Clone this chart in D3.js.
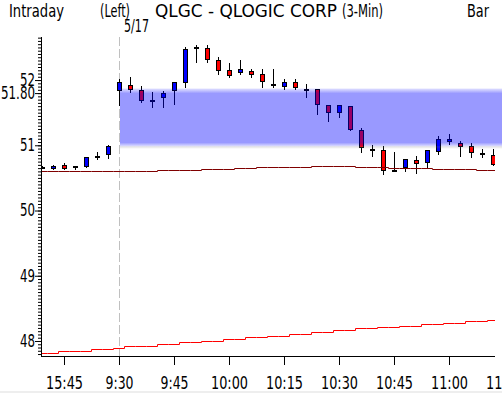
<!DOCTYPE html>
<html>
<head>
<meta charset="utf-8">
<script src="https://cdn.jsdelivr.net/npm/d3@7"></script>
<style>
  body { margin: 0; background: #fff; overflow: hidden; }
  svg { display: block; }
  text { font-family: "DejaVu Sans Condensed", "Liberation Sans Narrow", "DejaVu Sans", sans-serif; font-size: 17px; fill: #000; }
</style>
</head>
<body>
<div id="chart"></div>
<script>
// 3-min bars, previous close then the 5/17 session
const slots = ["15:39","15:42","15:45","15:48","15:51","15:54","15:57",
  "9:30","9:33","9:36","9:39","9:42","9:45","9:48","9:51","9:54","9:57",
  "10:00","10:03","10:06","10:09","10:12","10:15","10:18","10:21","10:24","10:27",
  "10:30","10:33","10:36","10:39","10:42","10:45","10:48","10:51","10:54","10:57",
  "11:00","11:03","11:06","11:09","11:12","11:15"];

const open  = [50.67,50.65,50.70,50.69,50.69,50.84,50.86, 51.84,51.93,51.85,51.70,51.74,51.84,51.97,52.51,52.49,52.31,52.15,52.12,52.14,52.09,51.94,51.91,51.97,51.87,51.87,51.61,51.51,51.60,51.24,50.95,50.93,50.62,50.66,50.77,50.74,50.92,51.07,51.04,50.99,50.88,50.85];
const high  = [50.69,50.70,50.73,50.69,50.82,50.89,51.00, 52.02,52.05,51.91,51.81,51.83,51.97,52.50,52.54,52.54,52.35,52.26,52.31,52.17,52.17,52.17,52.02,52.02,51.94,51.87,51.61,51.61,51.60,51.26,51.00,50.99,50.89,50.79,50.84,50.93,51.14,51.17,51.07,51.04,50.95,50.95];
const low   = [50.65,50.64,50.64,50.63,50.67,50.79,50.80, 51.62,51.82,51.67,51.59,51.59,51.64,51.90,52.28,52.28,52.09,52.05,52.10,52.04,51.90,51.90,51.86,51.87,51.74,51.48,51.38,51.44,51.23,50.90,50.84,50.56,50.60,50.60,50.57,50.65,50.87,51.02,50.84,50.82,50.82,50.70];
const close = [50.67,50.69,50.65,50.69,50.82,50.84,50.99, 51.97,51.87,51.70,51.70,51.80,51.97,52.48,52.51,52.32,52.15,52.08,52.17,52.10,51.99,51.94,51.97,51.89,51.87,51.63,51.51,51.61,51.25,50.97,50.95,50.62,50.62,50.79,50.73,50.93,51.09,51.10,50.99,50.90,50.88,50.72];

// moving averages
const maFast = [50.60,50.60,50.60,50.60,50.60,50.60,50.60,50.60, 50.61,50.61,50.61, 50.62,50.62,50.62,50.62, 50.635,50.635,50.635, 50.645,50.645, 50.66,50.66,50.66,50.66,50.66, 50.68,50.68,50.68,50.68, 50.66,50.66,50.66, 50.645,50.645,50.645,50.645, 50.63,50.63,50.63,50.63, 50.615,50.615];
const maSlow = [47.81,47.81, 47.85,47.85,47.85, 47.88,47.88, 47.90, 47.93,47.93,47.93, 47.96,47.96, 47.98,47.98, 48.005,48.005, 48.035,48.035, 48.06,48.06, 48.08,48.08, 48.11,48.11, 48.14,48.14, 48.17,48.17, 48.195,48.195, 48.215,48.215, 48.23,48.23, 48.255,48.255, 48.28,48.28, 48.30,48.30, 48.32];

const bandHigh = 51.87, bandLow = 50.95;

const yTickValues = [48, 49, 50, 51, 51.8, 52];
const yTickLabels = ["48", "49", "50", "51", "51.80", "52"];
const xTickLabels = ["15:45","9:30","9:45","10:00","10:15","10:30","10:45","11:00","11:15"];

const width = 502, height = 393;
const plot = { left: 41, right: 495, top: 37, bottom: 356 };

const x = d3.scalePoint().domain(slots).range([42, 504]);
const y = d3.scaleLinear().domain([47.77, 52.66]).range([356, 37]);
const py = v => Math.round(y(v));

const svg = d3.select("#chart").append("svg")
  .attr("width", width).attr("height", height);

const defs = svg.append("defs");
defs.append("clipPath").attr("id", "clip")
  .append("rect")
  .attr("x", plot.left + 0.5).attr("y", plot.top)
  .attr("width", plot.right - plot.left - 0.5).attr("height", plot.bottom - plot.top);

const grad = defs.append("linearGradient").attr("id", "bandFill")
  .attr("x1", 0).attr("y1", 0).attr("x2", 0).attr("y2", 1);
[[0, "#0000ff", 0.12], [0.04, "#0000ff", 0.25], [0.08, "#0000ff", 0.4],
 [0.90, "#0000ff", 0.4], [0.95, "#0000ff", 0.18], [0.97, "#808080", 0.2], [1, "#808080", 0.08]]
  .forEach(s => grad.append("stop").attr("offset", s[0]).attr("stop-color", s[1]).attr("stop-opacity", s[2]));

// session divider
svg.append("line")
  .attr("x1", x("9:30") + 0.5).attr("x2", x("9:30") + 0.5)
  .attr("y1", plot.top).attr("y2", plot.bottom)
  .attr("stroke", "#c0c0c0").attr("stroke-dasharray", "9,3");

const bars = open.map((o, i) => ({ t: slots[i], o, h: high[i], l: low[i], c: close[i] }));

const candles = svg.append("g").attr("clip-path", "url(#clip)");

candles.selectAll("line.wick")
  .data(bars)
  .join("line")
  .attr("class", "wick")
  .attr("x1", d => x(d.t) + 0.5).attr("x2", d => x(d.t) + 0.5)
  .attr("y1", d => py(d.h)).attr("y2", d => py(d.l) + 1)
  .attr("stroke", "#000");

candles.selectAll("rect.body")
  .data(bars)
  .join("rect")
  .attr("class", "body")
  .attr("x", d => x(d.t) - 1.5)
  .attr("y", d => py(Math.max(d.o, d.c)) + 0.5)
  .attr("width", 4)
  .attr("height", d => Math.max(1, py(Math.min(d.o, d.c)) - py(Math.max(d.o, d.c))))
  .attr("fill", d => d.c > d.o ? "#0000ff" : d.c < d.o ? "#ff0000" : "#000")
  .attr("stroke", "#000");

// shaded zone drawn over the bars
svg.append("rect")
  .attr("x", 120).attr("width", width - 120)
  .attr("y", y(bandHigh)).attr("height", y(bandLow) - y(bandHigh))
  .attr("fill", "url(#bandFill)");

const stepLine = d3.line().x(p => p[0]).y(p => py(p[1]) + 0.5);
function stepPoints(ma) {
  return ma.flatMap((v, i) => [[x(slots[i]) - 5.5, v], [x(slots[i]) + 5.5, v]]);
}

const lines = svg.append("g").attr("clip-path", "url(#clip)");
lines.append("path").attr("d", stepLine(stepPoints(maFast)))
  .attr("fill", "none").attr("stroke", "#800000");
lines.append("path").attr("d", stepLine(stepPoints(maSlow)))
  .attr("fill", "none").attr("stroke", "#ff0000");

// y axis
const yAxisG = svg.append("g").attr("transform", `translate(${plot.left},0)`);
yAxisG.append("g")
  .call(d3.axisLeft(y).tickValues(d3.range(47.8, 52.66, 0.05)).tickSize(3).tickFormat(""))
  .call(g => g.select(".domain").remove());
yAxisG.append("g")
  .call(d3.axisLeft(y).tickValues(yTickValues).tickSize(6).tickPadding(0)
    .tickFormat((d, i) => yTickLabels[i]))
  .call(g => g.select(".domain").remove())
  .call(g => g.selectAll("text")
    .attr("fill", "#000")
    .style("font-size", "17px")
    .style("font-family", null)
    .attr("textLength", d => { const s = yTickLabels[yTickValues.indexOf(d)]; return s.replace(".", "").length * 7.5 + (s.includes(".") ? 4 : 0); })
    .attr("lengthAdjust", "spacingAndGlyphs"));
yAxisG.selectAll(".tick line").attr("stroke", "#000");
svg.append("line")
  .attr("x1", plot.left + 0.5).attr("x2", plot.left + 0.5)
  .attr("y1", plot.top).attr("y2", plot.bottom + 1)
  .attr("stroke", "#000");

// x axis
svg.append("g")
  .attr("transform", `translate(0,${plot.bottom})`)
  .call(d3.axisBottom(x).tickValues(xTickLabels).tickSize(9))
  .call(g => g.select(".domain").remove())
  .call(g => g.selectAll(".tick line").attr("stroke", "#000"))
  .call(g => g.selectAll("text")
    .attr("y", 33).attr("dy", null)
    .attr("fill", "#000")
    .style("font-size", "17px")
    .attr("textLength", d => d.length === 5 ? 37 : 28)
    .attr("lengthAdjust", "spacingAndGlyphs"));
svg.append("line")
  .attr("x1", plot.left).attr("x2", plot.right)
  .attr("y1", plot.bottom + 0.5).attr("y2", plot.bottom + 0.5)
  .attr("stroke", "#000");

// header
const header = [
  ["Intraday", 9, 17, 55],
  ["(Left)", 100, 17, 30],
  ["QLGC - QLOGIC CORP", 155, 17, 182],
  ["(3-Min)", 342, 17, 41],
  ["Bar", 467, 17, 22],
  ["5/17", 124, 32, 25]
];
svg.selectAll("text.head")
  .data(header)
  .join("text")
  .attr("class", "head")
  .attr("x", d => d[1]).attr("y", d => d[2])
  .attr("textLength", d => d[3])
  .attr("lengthAdjust", "spacingAndGlyphs")
  .text(d => d[0]);

svg.append("rect").attr("x", 0).attr("y", 391).attr("width", width).attr("height", 2).attr("fill", "#eeeeee");
</script>
</body>
</html>
